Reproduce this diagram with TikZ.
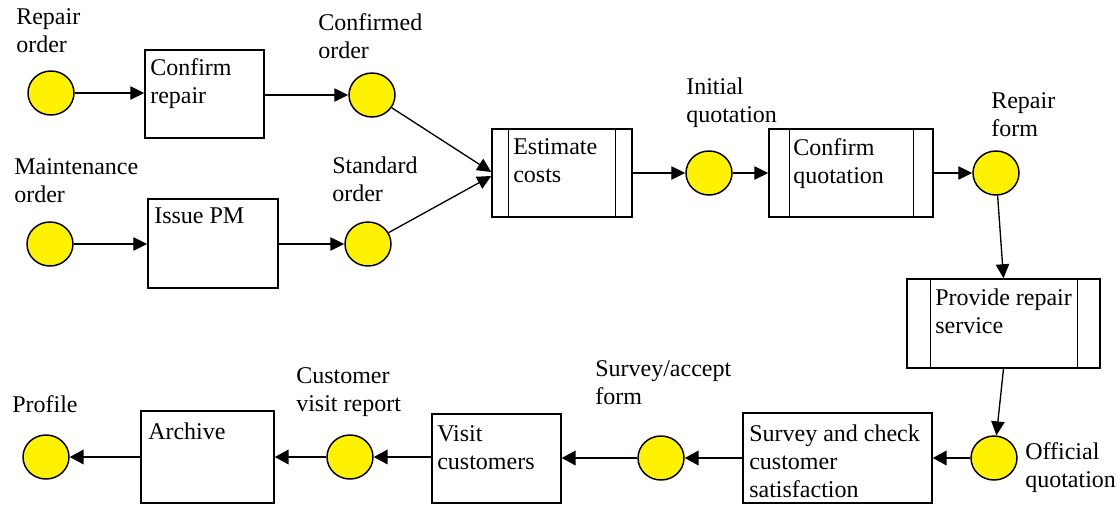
\documentclass[tikz,border=0pt]{standalone}
\usepackage{fontspec}
\setmainfont{Liberation Serif}
\usetikzlibrary{arrows.meta,shapes.geometric,calc}

\begin{document}
\begin{tikzpicture}[x=0.75pt,y=-0.75pt,
  every node/.style={font=\fontsize{18pt}{21pt}\selectfont},
  place/.style={ellipse,draw,fill=yellow,line width=1.1pt,
    minimum width=46*0.75pt,minimum height=44*0.75pt,inner sep=0pt},
  task/.style 2 args={rectangle,draw,line width=1.1pt,
    minimum width=#1*0.75pt,minimum height=#2*0.75pt,inner sep=0pt},
  txt/.style={anchor=north west,inner sep=0pt,align=left},
  flow/.style={line width=1pt,-{Triangle[length=10.5pt,width=10pt]}},
  backflow/.style={line width=1.5pt,-{Triangle[length=10.5pt,width=11pt]}},
  sideline/.style={line width=1.1pt},
]
\useasboundingbox (0,0) rectangle (1117,504);

% places
\node[place] (c1) at (51,93) {};
\node[place] (c2) at (372,95) {};
\node[place] (c3) at (50,244) {};
\node[place] (c4) at (368,244) {};
\node[place] (c5) at (709,173) {};
\node[place] (c6) at (996,173) {};
\node[place] (c7) at (994,458) {};
\node[place] (c8) at (661,458) {};
\node[place] (c9) at (350,457) {};
\node[place] (c10) at (46,457) {};

% activities
\node[task={119}{88}] (b1) at (204.5,94) {};
\node[task={130}{89}] (b2) at (213,243.5) {};
\node[task={140}{88}] (b3) at (562,173) {};
\node[task={164}{88}] (b4) at (851,173) {};
\node[task={193}{89}] (b5) at (1003.5,323.5) {};
\node[task={189}{90}] (b6) at (837.5,458) {};
\node[task={129}{89}] (b7) at (496.5,458.5) {};
\node[task={133}{92}] (b8) at (207.5,457) {};

% sub-process side bars
\draw[sideline] ($(b3.north west)+(17,0)$) -- ($(b3.south west)+(17,0)$);
\draw[sideline] ($(b3.north east)+(-17,0)$) -- ($(b3.south east)+(-17,0)$);
\draw[sideline] ($(b4.north west)+(21,0)$) -- ($(b4.south west)+(21,0)$);
\draw[sideline] ($(b4.north east)+(-20,0)$) -- ($(b4.south east)+(-20,0)$);
\draw[sideline] ($(b5.north west)+(24,0)$) -- ($(b5.south west)+(24,0)$);
\draw[sideline] ($(b5.north east)+(-23,0)$) -- ($(b5.south east)+(-23,0)$);

% activity texts
\node[txt] (t1) at (150,58) {Confirm\\repair};
\node[txt] (t2) at (154,208) {Issue PM};
\node[txt] (t3) at (513,138) {Estimate\\costs};
\node[txt] (t4) at (793,138) {Confirm\\quotation};
\node[txt] (t5) at (935,289) {Provide repair\\service};
\node[txt] (t6) at (749,425) {Survey and check\\customer\\satisfaction};
\node[txt] (t7) at (437,425) {Visit\\customers};
\node[txt] (t8) at (148,423) {Archive};

% place labels
\node[txt] (l1) at (16,8) {Repair\\order};
\node[txt] (l2) at (318,13) {Confirmed\\order};
\node[txt] (l3) at (14,158) {Maintenance\\order};
\node[txt] (l4) at (332,157) {Standard\\order};
\node[txt] (l5) at (686,78) {Initial\\quotation};
\node[txt] (l6) at (991,92) {Repair\\form};
\node[txt] (l7) at (595,360) {Survey/accept\\form};
\node[txt] (l8) at (296,367) {Customer\\visit report};
\node[txt] (l9) at (12,395) {Profile};
\node[txt] (l10) at (1025,442) {Official\\quotation};

% flow, upper part
\draw[flow] (c1) -- (c1 -| b1.west);
\draw[flow] (b1.east |- c2) -- (c2);
\draw[flow] (c3) -- (c3 -| b2.west);
\draw[flow] (b2.east |- c4) -- (c4);
\draw[flow] (c2) -- ($(b3.west)+(0,-1)$);
\draw[flow] (c4) -- ($(b3.west)+(0,3)$);
\draw[flow] (b3) -- (c5);
\draw[flow] (c5) -- (b4);
\draw[flow] (b4) -- (c6);
\draw[flow] (c6) -- (b5.north);
\draw[flow] (b5.south) -- (c7);

% flow, lower part (right to left)
\draw[backflow] (c7) -- (b6);
\draw[backflow] (b6) -- (c8);
\draw[backflow] (c8) -- (c8 -| b7.east);
\draw[backflow] (b7.west |- c9) -- (c9);
\draw[backflow] (c9) -- (c9 -| b8.east);
\draw[backflow] (b8.west |- c10) -- (c10);
\end{tikzpicture}
\end{document}
